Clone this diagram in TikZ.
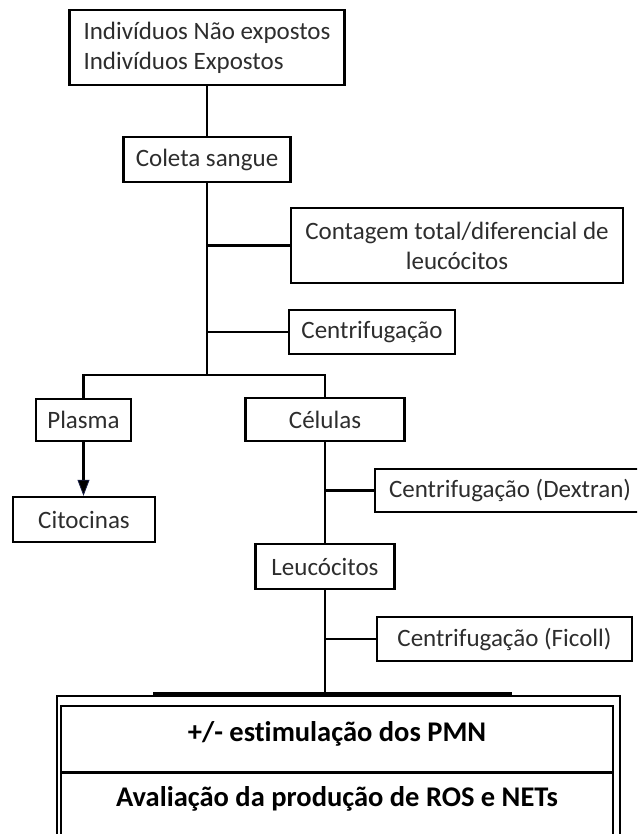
\documentclass[tikz,border=0pt]{standalone}
\usepackage{fontspec}
\setmainfont{Carlito}[Ligatures=NoCommon]
\usetikzlibrary{arrows.meta}

\definecolor{flowText}{RGB}{45,45,45}
\definecolor{flowTip}{RGB}{25,32,72}

\tikzset{
  stepbox/.style={draw, line width=2.4pt, inner sep=0pt, align=center, text=flowText},
  panel/.style={draw, line width=1.6pt, inner sep=0pt},
  link/.style={line width=2.4pt},
  boldtxt/.style={font=\fontsize{28.5}{34}\selectfont\bfseries, inner sep=0pt},
}

\begin{document}
\begin{tikzpicture}[x=1pt, y=-1pt, font=\fontsize{25}{30}\selectfont]
\useasboundingbox (0,0) rectangle (637,834);
\clip (0,0) rectangle (637,834);
%% upper trunk: groups and blood collection
\node[stepbox, align=left, minimum width=275, minimum height=75]
  (groups) at (207,47.5) {Indivíduos Não expostos\\Indivíduos Expostos};
\node[stepbox, minimum width=167, minimum height=45]
  (coleta) at (207,159.5) {Coleta sangue};
\node[stepbox, minimum width=332, minimum height=75]
  (contagem) at (457,245.5) {Contagem total/diferencial de\\leucócitos};
\node[stepbox, minimum width=166, minimum height=44]
  (centrif) at (372,332) {Centrifugação};
\coordinate (fork) at (207,375);
%% left branch: plasma
\node[stepbox, minimum width=95, minimum height=42]
  (plasma) at (83.5,420) {Plasma};
\node[stepbox, minimum width=142, minimum height=45]
  (citocinas) at (84,519.5) {Citocinas};
%% right branch: cells
\node[stepbox, minimum width=159, minimum height=43]
  (celulas) at (325,419.5) {Células};
\node[stepbox, minimum width=270, minimum height=43]
  (dextran) at (510,490.5) {Centrifugação (Dextran)};
\node[stepbox, minimum width=139, minimum height=45]
  (leuco) at (325,566.5) {Leucócitos};
\node[stepbox, minimum width=255, minimum height=44]
  (ficoll) at (504.5,639) {Centrifugação (Ficoll)};
\node[fill=black, inner sep=0pt, minimum width=359, minimum height=4]
  (bar) at (332.5,694) {};
%% bottom panel
\draw[line width=1.6pt] (57,696) rectangle (620,870);
\node[panel, minimum width=552, minimum height=66] (stim) at (337,739) {};
\node[panel, anchor=north, minimum width=552, minimum height=95] (eval) at (stim.south) {};
\node[boldtxt] (stimtxt) at (337,733.5) {+/- estimulação dos PMN};
\node[boldtxt] (evaltxt) at (337,799) {Avaliação da produção de ROS e NETs};
%% connectors
\draw[link] (groups) -- (coleta);
\draw[link] (coleta) -- (fork);
\draw[link] (coleta.south |- contagem.west) -- (contagem.west);
\draw[link] (coleta.south |- centrif.west) -- (centrif.west);
\draw[link] (plasma.north) |- (fork) -| (celulas.north);
\draw[link, -{Triangle[length=16pt, width=12pt, line width=0.8pt, color=flowTip, fill=black]}]
  (plasma.south) -- (plasma.south |- citocinas.north);
\draw[link] (celulas) -- (leuco);
\draw[link] (celulas.south |- dextran.west) -- (dextran.west);
\draw[link] (leuco.south) -- (leuco.south |- bar.north);
\draw[link] (leuco.south |- ficoll.west) -- (ficoll.west);
\end{tikzpicture}
\end{document}
